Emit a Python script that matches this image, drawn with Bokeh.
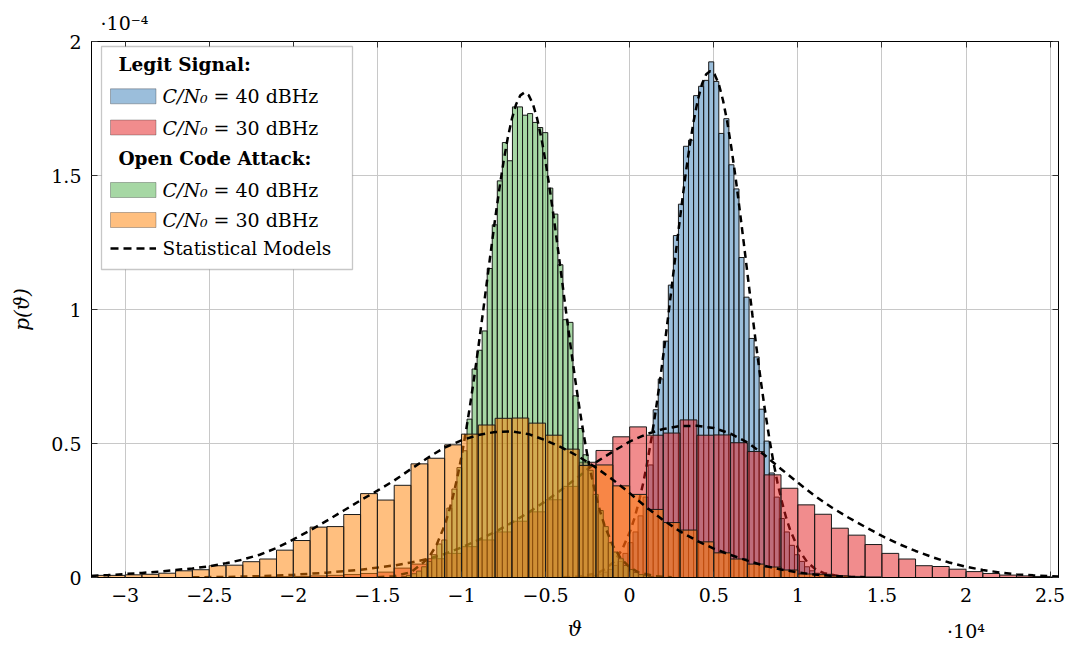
import numpy as np
from bokeh.plotting import figure
from bokeh.models import (Range1d, FixedTicker, CustomJSTickFormatter, LinearAxis, Label,
                          BoxAnnotation, Arrow, ColumnDataSource)
from bokeh.embed import file_html
from bokeh.resources import INLINE

# ---------------- data (x in raw units, densities in units of 1e-4) ----------------
x_ticks = [-30000, -25000, -20000, -15000, -10000, -5000, 0, 5000, 10000, 15000, 20000, 25000]
y_ticks = [0, 0.5, 1, 1.5, 2]
x_exponent_tick = 20000

wide_bin = 1000
narrow_bin = 300

# Legit signal, C/N0 = 40 dBHz (blue)
legit40_start = -2800
legit40_hist = [0.003, 0.005, 0.008, 0.013, 0.02, 0.03, 0.045, 0.06, 0.09, 0.13, 0.17, 0.23, 0.30, 0.42,
                0.626, 0.741, 0.882, 1.091, 1.276, 1.393, 1.609, 1.632, 1.798, 1.833, 1.855, 1.924,
                1.851, 1.657, 1.712, 1.54, 1.45, 1.194, 1.046, 0.892, 0.823, 0.628, 0.509, 0.39,
                0.30, 0.22, 0.17, 0.12, 0.085, 0.06, 0.04, 0.025, 0.016, 0.01, 0.006, 0.003]
legit40_model_x = [-3950, -2950, -1950, -1450, -950, -450, 50, 300, 550, 800, 1050, 1300, 1550, 1800,
                   2050, 2300, 2550, 2800, 3050, 3300, 3550, 3800, 4050, 4300, 4550, 4800, 5050, 5300,
                   5550, 5800, 6050, 6300, 6550, 6800, 7050, 7300, 7550, 7800, 8050, 8300, 8550, 8800,
                   9050, 9300, 9550, 10050, 10550, 11050, 11550, 12550, 13550]
legit40_model_y = [0.0006, 0.0034, 0.016, 0.031, 0.058, 0.104,
                   0.176, 0.224, 0.283, 0.351, 0.430, 0.521, 0.622, 0.733, 0.853, 0.979, 1.110, 1.241,
                   1.369, 1.492, 1.603, 1.701, 1.781, 1.841, 1.878, 1.890, 1.878, 1.841, 1.781, 1.701,
                   1.603, 1.492, 1.369, 1.241, 1.110, 0.979, 0.853, 0.733, 0.622, 0.521, 0.430, 0.351,
                   0.283, 0.224, 0.176,
                   0.104, 0.058, 0.031, 0.016, 0.0034, 0.0006]

# Legit signal, C/N0 = 30 dBHz (red)
legit30_start = -22000
legit30_hist = [0.002, 0.003, 0.004, 0.006, 0.008, 0.011, 0.015, 0.02, 0.035, 0.05, 0.07, 0.09, 0.115,
                0.14, 0.17, 0.21, 0.245, 0.29, 0.34, 0.43, 0.474, 0.525,
                0.562, 0.531, 0.539, 0.588, 0.531, 0.532, 0.503, 0.470, 0.383, 0.333, 0.271, 0.236,
                0.184, 0.158, 0.123, 0.090, 0.069, 0.044, 0.041, 0.031, 0.022, 0.015, 0.009, 0.006,
                0.004, 0.002]
legit30_model_x = [-26000, -24000, -22000, -20000, -18000, -16000, -14000, -13000, -12000, -11000,
                   -10000, -9000, -8000, -7000, -6000, -5000, -4000, -3000, -2000, -1000, 0, 1000,
                   2000, 3000, 4000, 5000, 6000, 7000, 8000, 9000, 10000, 11000, 12000, 13000, 14000,
                   15000, 16000, 17000, 18000, 19000, 20000, 21000, 22000, 23000, 24000, 25000, 25500]
legit30_model_y = [0.001, 0.002, 0.005, 0.010, 0.018, 0.029, 0.045, 0.056, 0.069, 0.088, 0.112, 0.140,
                   0.170, 0.205, 0.243, 0.285, 0.330, 0.378, 0.430, 0.470, 0.507, 0.535, 0.554, 0.565,
                   0.566, 0.558, 0.537, 0.504, 0.458, 0.405, 0.354, 0.305, 0.262, 0.224, 0.189, 0.155,
                   0.125, 0.099, 0.076, 0.056, 0.040, 0.028, 0.019, 0.012, 0.008, 0.005, 0.004]

# Open code attack, C/N0 = 40 dBHz (green)
attack40_start = -13570
attack40_hist = [0.004, 0.008, 0.014, 0.024, 0.04, 0.06, 0.085, 0.125, 0.14, 0.259, 0.33, 0.41, 0.473,
                 0.591, 0.778, 0.848, 0.920, 1.153, 1.316, 1.480, 1.623, 1.555, 1.756, 1.756, 1.725,
                 1.731, 1.698, 1.679, 1.660, 1.453, 1.356, 1.167, 0.962, 0.952, 0.678, 0.556, 0.458,
                 0.40, 0.31, 0.25, 0.19, 0.13, 0.095, 0.07, 0.045, 0.03, 0.019, 0.011, 0.007, 0.004]
attack40_model_x = [-15000, -14000, -13000, -12000, -11500, -11000, -10750, -10500, -10250, -10000,
                    -9750, -9500, -9250, -9000, -8750, -8500, -8250, -8000, -7750, -7500, -7250, -7000,
                    -6750, -6500, -6250, -6000, -5750, -5500, -5250, -5000, -4750, -4500, -4250, -4000,
                    -3750, -3500, -3250, -3000, -2750, -2500, -2250, -2000, -1750, -1500, -1000, -500,
                    0, 500, 1500, 2500]
attack40_model_y = [0.0009, 0.0048, 0.020, 0.069, 0.119,
                    0.195, 0.245, 0.304, 0.373, 0.451, 0.540, 0.638, 0.744, 0.858, 0.976, 1.098, 1.219,
                    1.338, 1.449, 1.551, 1.640, 1.712, 1.766, 1.799, 1.810, 1.799, 1.766, 1.712, 1.640,
                    1.551, 1.449, 1.338, 1.219, 1.098, 0.976, 0.858, 0.744, 0.638, 0.540, 0.451, 0.373,
                    0.304, 0.245, 0.195,
                    0.119, 0.069, 0.038, 0.020, 0.0048, 0.0009]

# Open code attack, C/N0 = 30 dBHz (orange)
attack30_start = -32000
attack30_hist = [0.008, 0.008, 0.01, 0.012, 0.016, 0.025, 0.029, 0.044, 0.046, 0.059, 0.069, 0.102,
                 0.138, 0.188, 0.19, 0.235, 0.313, 0.289, 0.344, 0.424, 0.445, 0.495, 0.535, 0.569,
                 0.594, 0.595, 0.576, 0.531, 0.479, 0.418, 0.42, 0.342, 0.31, 0.254, 0.205, 0.177,
                 0.133, 0.092, 0.069, 0.05, 0.039, 0.028, 0.013, 0.012, 0.006, 0.004, 0.002]
attack30_model_x = [-32000, -31000, -30000, -29000, -28000, -27000, -26000, -25000, -24000, -23000,
                    -22000, -21000, -20000, -19000, -18000, -17000, -16000, -15000, -14000, -13000,
                    -12000, -11000, -10000, -9000, -8000, -7000, -6000, -5000, -4000, -3000, -2000,
                    -1000, 0, 1000, 2000, 3000, 4000, 5000, 6000, 7000, 8000, 9000, 10000, 11000,
                    12000, 13000, 14000]
attack30_model_y = [0.006, 0.009, 0.013, 0.017, 0.022, 0.028, 0.034, 0.042, 0.053, 0.067, 0.085, 0.110,
                    0.142, 0.176, 0.212, 0.250, 0.288, 0.324, 0.362, 0.405, 0.447, 0.485, 0.512, 0.532,
                    0.543, 0.545, 0.535, 0.512, 0.484, 0.450, 0.410, 0.365, 0.315, 0.262, 0.214, 0.172,
                    0.137, 0.108, 0.084, 0.063, 0.044, 0.030, 0.019, 0.011, 0.006, 0.003, 0.001]

colors = {"legit40": "#377eb8", "legit30": "#e41a1c", "attack40": "#4daf4a", "attack30": "#ff7f00"}

SERIF = "DejaVu Serif"

# ---------------- figure ----------------
p = figure(width=1066, height=650, x_range=Range1d(-32000, 25500), y_range=Range1d(0, 2),
           output_backend="svg", toolbar_location=None,
           min_border_left=91, min_border_right=8, min_border_top=41, min_border_bottom=73)
p.background_fill_color = "white"
p.border_fill_color = "white"
p.outline_line_color = "black"
p.outline_line_width = 1

# exponent of the y axis, shown as the plot's title (top left)
p.title.text = "·10⁻⁴"
p.title.align = "left"
p.title.offset = 9
p.title.text_font = SERIF
p.title.text_font_size = "19px"
p.title.text_font_style = "normal"
p.title.text_color = "black"
p.title.standoff = 16

xt = FixedTicker(ticks=x_ticks)
yt = FixedTicker(ticks=y_ticks)
xfmt = CustomJSTickFormatter(code="""
const v = Math.round(tick / 1000) / 10;
return (v < 0 ? '\u2212' : '') + Math.abs(v).toString();
""")
yfmt = CustomJSTickFormatter(code="""
const v = Math.round(tick * 10) / 10;
return v.toString();
""")

xa = p.xaxis[0]
ya = p.yaxis[0]
xa.ticker = xt
ya.ticker = yt
xa.formatter = xfmt
ya.formatter = yfmt
for ax in (xa, ya):
    ax.major_tick_in = 6
    ax.major_tick_out = 0
    ax.minor_tick_line_color = None
    ax.major_tick_line_color = "#333333"
    ax.axis_line_color = "black"
    ax.major_label_text_font = SERIF
    ax.major_label_text_font_size = "19px"
    ax.major_label_text_color = "black"
    ax.major_label_standoff = 10
    ax.axis_label_text_font = SERIF
    ax.axis_label_text_font_style = "italic"
    ax.axis_label_text_font_size = "20px"
    ax.axis_label_text_color = "black"
xa.axis_label = "ϑ"
xa.axis_label_standoff = 12
ya.axis_label = "p(ϑ)"
ya.axis_label_standoff = 14

for side, rng_ticker in (("above", xt), ("right", yt)):
    ax = LinearAxis(ticker=rng_ticker, major_tick_in=6, major_tick_out=0,
                    minor_tick_line_color=None, major_tick_line_color="#333333",
                    axis_line_color="black", major_label_text_font_size="0px",
                    major_label_text_alpha=0, major_label_standoff=0)
    p.add_layout(ax, side)

# exponent of the x axis (bottom right): a label-only axis pulled up into the axis-label row
xexp_axis = LinearAxis(ticker=FixedTicker(ticks=[x_exponent_tick]),
                       major_label_overrides={x_exponent_tick: "·10⁴"},
                       major_tick_in=0, major_tick_out=0, minor_tick_line_color=None,
                       major_tick_line_color=None, axis_line_color=None,
                       major_label_text_font=SERIF, major_label_text_font_size="19px",
                       major_label_text_color="black", major_label_standoff=-24)
p.add_layout(xexp_axis, "below")

p.xgrid.ticker = xt
p.ygrid.ticker = yt
p.grid.grid_line_color = "#c8c8c8"
p.grid.grid_line_width = 1


def draw_hist(start, width, heights, color):
    heights = np.asarray(heights, dtype=float)
    left = start + width * np.arange(len(heights))
    src = ColumnDataSource(dict(left=left, right=left + width, top=heights))
    p.quad(left="left", right="right", bottom=0, top="top", source=src,
           fill_color=color, fill_alpha=0.5, line_color="#1a1a1a", line_width=1)


def draw_model(xs, ys):
    p.line(xs, ys, line_color="black", line_width=2.5, line_dash="7 5")


draw_hist(legit40_start, narrow_bin, legit40_hist, colors["legit40"])
draw_model(legit40_model_x, legit40_model_y)
draw_hist(legit30_start, wide_bin, legit30_hist, colors["legit30"])
draw_model(legit30_model_x, legit30_model_y)
draw_hist(attack40_start, narrow_bin, attack40_hist, colors["attack40"])
draw_model(attack40_model_x, attack40_model_y)
draw_hist(attack30_start, wide_bin, attack30_hist, colors["attack30"])
draw_model(attack30_model_x, attack30_model_y)

FL, FB = 91, 577  # frame left / bottom in canvas pixels


def sx(cx):
    return cx - FL


def sy(cy):
    return FB - cy


# ---------------- legend ----------------
p.add_layout(BoxAnnotation(left=sx(101), right=sx(352), top=sy(46), bottom=sy(269),
                           left_units="screen", right_units="screen", top_units="screen",
                           bottom_units="screen", fill_color="white", fill_alpha=1,
                           line_color="#444444", line_width=1.3))

legend_rows = [
    ("header", "Legit Signal:", None, 64),
    ("swatch", "40", colors["legit40"], 95.8),
    ("swatch", "30", colors["legit30"], 127),
    ("header", "Open Code Attack:", None, 158),
    ("swatch", "40", colors["attack40"], 189.5),
    ("swatch", "30", colors["attack30"], 219.5),
    ("line", "Statistical Models", None, 248),
]
for kind, txt, col, cy in legend_rows:
    if kind == "header":
        p.add_layout(Label(x=sx(118), y=sy(cy), x_units="screen", y_units="screen", text=txt,
                           text_font=SERIF, text_font_size="18.5px", text_font_style="bold",
                           text_baseline="middle", text_color="black"))
    elif kind == "swatch":
        p.add_layout(BoxAnnotation(left=sx(110), right=sx(155.5), top=sy(cy - 7.5), bottom=sy(cy + 7.5),
                                   left_units="screen", right_units="screen", top_units="screen",
                                   bottom_units="screen", fill_color=col, fill_alpha=0.5,
                                   line_color="#1a1a1a", line_width=1))
        p.add_layout(Label(x=sx(162), y=sy(cy), x_units="screen", y_units="screen", text="C/N₀",
                           text_font=SERIF, text_font_size="19px", text_font_style="italic",
                           text_baseline="middle", text_color="black"))
        p.add_layout(Label(x=sx(213), y=sy(cy), x_units="screen", y_units="screen",
                           text="= " + txt + " dBHz", text_font=SERIF, text_font_size="19px",
                           text_baseline="middle", text_color="black"))
    else:
        p.add_layout(Arrow(x_start=sx(110), y_start=sy(cy), x_end=sx(155.5), y_end=sy(cy),
                           start_units="screen", end_units="screen", start=None, end=None,
                           line_color="black", line_width=2.5, line_dash="8 5"))
        p.add_layout(Label(x=sx(162), y=sy(cy), x_units="screen", y_units="screen", text=txt,
                           text_font=SERIF, text_font_size="18.5px", text_baseline="middle",
                           text_color="black"))

open("out.html", "w").write(file_html(p, INLINE))
